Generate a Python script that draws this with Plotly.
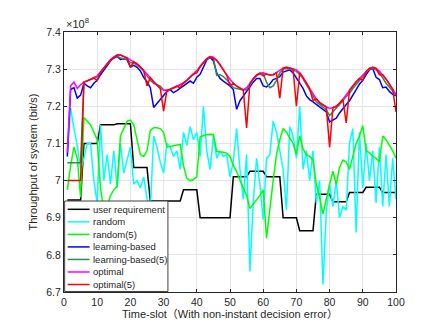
import plotly.graph_objects as go

# throughput per time-slot, in units of 1e8 bit/s
time_slots = list(range(1, 101))

user_requirement = [
    6.948, 6.948, 6.948, 6.948, 6.948, 7.100, 7.100, 7.100, 7.100, 7.100,
    7.150, 7.150, 7.150, 7.150, 7.150, 7.153, 7.153, 7.153, 7.153, 7.153,
    7.035, 7.035, 7.035, 7.035, 7.035, 6.945, 6.945, 6.945, 6.945, 6.945,
    6.945, 6.945, 6.945, 6.945, 6.945, 6.975, 6.975, 6.975, 6.975, 6.975,
    6.900, 6.900, 6.900, 6.900, 6.900, 6.900, 6.900, 6.900, 6.900, 6.900,
    7.010, 7.010, 7.010, 7.010, 7.010, 7.025, 7.025, 7.025, 7.025, 7.025,
    7.010, 7.010, 7.010, 7.010, 7.010, 6.900, 6.900, 6.900, 6.900, 6.900,
    6.865, 6.865, 6.865, 6.865, 6.865, 6.963, 6.963, 6.963, 6.963, 6.963,
    6.943, 6.943, 6.943, 6.943, 6.943, 6.968, 6.968, 6.968, 6.968, 6.968,
    6.982, 6.982, 6.982, 6.982, 6.982, 6.968, 6.968, 6.968, 6.968, 6.968,
]

random_policy = [
    7.070, 7.195, 7.140, 7.095, 7.030, 7.060, 7.100, 7.100, 7.000, 6.940,
    7.150, 7.000, 7.070, 6.990, 7.080, 6.980, 7.100, 7.020, 7.055, 7.090,
    6.990, 7.000, 6.980, 7.010, 6.950, 6.920, 7.120, 7.090, 7.050, 7.020,
    7.100, 7.090, 7.065, 7.080, 7.030, 7.130, 7.095, 7.145, 7.110, 7.130,
    7.065, 7.200, 7.080, 7.030, 7.120, 7.060, 7.080, 7.065, 7.070, 7.010,
    7.050, 7.140, 7.030, 6.950, 7.070, 6.755, 6.940, 7.060, 6.990, 6.895,
    7.060, 7.070, 7.160, 7.130, 7.080, 7.030, 6.920, 7.145, 7.120, 7.060,
    7.200, 7.030, 7.080, 7.000, 7.080, 6.940, 7.000, 6.720, 6.915, 6.990,
    6.930, 7.000, 6.900, 6.930, 6.920, 7.100, 7.140, 6.860, 7.130, 6.980,
    7.100, 7.000, 7.080, 6.940, 7.090, 6.930, 7.070, 6.930, 7.060, 6.950,
]

random_5 = [
    6.975, 7.040, 7.090, 7.060, 6.955, 7.170, 7.160, 7.150, 7.130, 7.110,
    6.980, 6.920, 6.930, 6.960, 6.975, 6.985, 7.120, 7.140, 7.160, 7.163,
    7.150, 7.110, 7.070, 7.065, 7.080, 7.135, 7.142, 7.142, 7.140, 7.130,
    7.090, 7.092, 7.095, 7.096, 7.097, 7.040, 7.006, 7.000, 7.003, 7.010,
    7.118, 7.122, 7.124, 7.125, 7.124, 7.078, 7.078, 7.076, 7.074, 7.065,
    7.040, 7.025, 7.000, 6.980, 6.960, 6.925, 6.935, 6.948, 6.960, 6.975,
    6.845, 6.930, 7.000, 7.070, 7.110, 7.140, 7.130, 7.115, 7.100, 7.070,
    7.120, 7.085, 7.070, 7.065, 7.055, 6.990, 6.955, 6.910, 6.955, 6.990,
    7.025, 6.990, 7.035, 7.055, 7.050, 7.030, 7.065, 7.100, 7.120, 7.148,
    7.080, 7.075, 7.065, 7.060, 7.050, 7.120, 7.110, 7.095, 7.080, 7.060,
]

learning = [
    7.065, 7.245, 7.250, 7.222, 7.230, 7.262, 7.255, 7.250, 7.262, 7.270,
    7.285, 7.298, 7.312, 7.322, 7.330, 7.334, 7.326, 7.328, 7.325, 7.306,
    7.310, 7.305, 7.295, 7.278, 7.266, 7.250, 7.197, 7.208, 7.220, 7.228,
    7.240, 7.244, 7.237, 7.242, 7.248, 7.255, 7.262, 7.268, 7.262, 7.278,
    7.286, 7.305, 7.325, 7.332, 7.322, 7.290, 7.275, 7.268, 7.262, 7.255,
    7.245, 7.192, 7.215, 7.228, 7.240, 7.255, 7.265, 7.275, 7.275, 7.255,
    7.252, 7.260, 7.272, 7.275, 7.280, 7.292, 7.295, 7.298, 7.290, 7.275,
    7.262, 7.248, 7.228, 7.218, 7.212, 7.205, 7.198, 7.192, 7.185, 7.158,
    7.162, 7.168, 7.182, 7.195, 7.205, 7.215, 7.232, 7.245, 7.260, 7.270,
    7.285, 7.298, 7.302, 7.278, 7.272, 7.250, 7.252, 7.240, 7.232, 7.228,
]

learning_5 = [
    7.048, 7.048, 7.048, 7.048, 7.048, 7.265, 7.268, 7.272, 7.276, 7.280,
    7.290, 7.302, 7.314, 7.324, 7.332, 7.336, 7.330, 7.328, 7.326, 7.318,
    7.316, 7.311, 7.304, 7.294, 7.282, 7.270, 7.262, 7.258, 7.254, 7.244,
    7.242, 7.245, 7.249, 7.253, 7.256, 7.262, 7.269, 7.277, 7.286, 7.295,
    7.306, 7.317, 7.327, 7.333, 7.330, 7.283, 7.285, 7.280, 7.272, 7.262,
    7.250, 7.248, 7.246, 7.243, 7.245, 7.260, 7.273, 7.282, 7.287, 7.288,
    7.265, 7.250, 7.255, 7.270, 7.290, 7.300, 7.302, 7.300, 7.298, 7.294,
    7.286, 7.274, 7.258, 7.243, 7.228, 7.212, 7.205, 7.198, 7.190, 7.175,
    7.185, 7.193, 7.204, 7.215, 7.226, 7.235, 7.248, 7.258, 7.270, 7.280,
    7.292, 7.300, 7.303, 7.298, 7.290, 7.275, 7.262, 7.252, 7.240, 7.230,
]

optimal = [
    7.075, 7.255, 7.265, 7.248, 7.258, 7.265, 7.268, 7.272, 7.276, 7.282,
    7.292, 7.303, 7.315, 7.325, 7.333, 7.338, 7.338, 7.335, 7.330, 7.325,
    7.320, 7.314, 7.306, 7.297, 7.287, 7.277, 7.266, 7.256, 7.248, 7.243,
    7.243, 7.246, 7.250, 7.254, 7.258, 7.263, 7.270, 7.278, 7.287, 7.296,
    7.307, 7.318, 7.328, 7.334, 7.332, 7.324, 7.312, 7.298, 7.284, 7.272,
    7.262, 7.254, 7.248, 7.244, 7.250, 7.262, 7.275, 7.284, 7.289, 7.290,
    7.287, 7.284, 7.285, 7.290, 7.297, 7.303, 7.305, 7.303, 7.300, 7.298,
    7.290, 7.278, 7.263, 7.248, 7.233, 7.220, 7.210, 7.203, 7.198, 7.195,
    7.196, 7.200, 7.208, 7.219, 7.231, 7.244, 7.256, 7.266, 7.275, 7.284,
    7.294, 7.302, 7.305, 7.302, 7.295, 7.285, 7.273, 7.260, 7.246, 7.232,
]

optimal_5 = [
    7.000, 7.000, 7.000, 7.000, 7.000, 7.265, 7.268, 7.272, 7.276, 7.270,
    7.292, 7.303, 7.315, 7.325, 7.330, 7.338, 7.338, 7.335, 7.330, 7.305,
    7.320, 7.314, 7.306, 7.297, 7.255, 7.277, 7.266, 7.256, 7.248, 7.187,
    7.243, 7.246, 7.250, 7.254, 7.250, 7.263, 7.270, 7.278, 7.287, 7.290,
    7.307, 7.318, 7.328, 7.334, 7.328, 7.324, 7.312, 7.298, 7.284, 7.255,
    7.262, 7.254, 7.248, 7.244, 7.142, 7.262, 7.275, 7.284, 7.289, 7.282,
    7.287, 7.284, 7.285, 7.290, 7.222, 7.303, 7.305, 7.303, 7.300, 7.200,
    7.290, 7.278, 7.263, 7.248, 7.215, 7.220, 7.210, 7.203, 7.198, 7.090,
    7.196, 7.200, 7.208, 7.219, 7.155, 7.244, 7.256, 7.266, 7.275, 7.270,
    7.294, 7.302, 7.305, 7.302, 7.285, 7.285, 7.273, 7.260, 7.246, 7.185,
]

names = ["user requirement", "random", "random(5)", "learning-based",
         "learning-based(5)", "optimal", "optimal(5)"]
colors = ["#000000", "#00ffff", "#00ff00", "#0000ff",
          "#338855", "#ff00ff", "#ff0000"]
series = [user_requirement, random_policy, random_5, learning,
          learning_5, optimal, optimal_5]

y_ticks = [6.7, 6.8, 6.9, 7.0, 7.1, 7.2, 7.3, 7.4]
y_labels = ["6.7", "6.8", "6.9", "7", "7.1", "7.2", "7.3", "7.4"]
x_ticks = [0, 10, 20, 30, 40, 50, 60, 70, 80, 90, 100]

fig = go.Figure()
for name, color, ys in zip(names, colors, series):
    fig.add_trace(go.Scatter(x=time_slots, y=ys, mode="lines", name=name,
                             line=dict(color=color, width=1.5)))

# matlab-style legend box in the lower left corner, opaque
fig.add_shape(type="rect", xref="paper", yref="paper", x0=0.002, x1=0.313,
              y0=0.002, y1=0.35, fillcolor="white",
              line=dict(color="#404040", width=1), layer="above")
for i, (name, color) in enumerate(zip(names, colors)):
    yc = 0.318 - 0.0482 * i
    fig.add_shape(type="line", xref="paper", yref="paper", x0=0.011, x1=0.077,
                  y0=yc, y1=yc, line=dict(color=color, width=1.5), layer="above")
    fig.add_annotation(xref="paper", yref="paper", x=0.082, y=yc, text=name,
                       showarrow=False, xanchor="left", yanchor="middle",
                       font=dict(size=9.5, color="#262626"))

fig.add_annotation(xref="paper", yref="paper", x=0.0, y=1.0,
                   text="×10<sup>8</sup>", showarrow=False,
                   xanchor="left", yanchor="bottom",
                   font=dict(size=11, color="#262626"))

axis_style = dict(showgrid=True, gridcolor="#e4e4e4", showline=True,
                  linecolor="#262626", linewidth=1, mirror="all",
                  ticks="inside", ticklen=3, tickcolor="#262626",
                  zeroline=False, tickfont=dict(size=10.5))

fig.update_layout(
    width=429, height=322,
    margin=dict(l=56, r=41, t=24, b=35),
    plot_bgcolor="white", paper_bgcolor="white",
    showlegend=False,
    font=dict(family="Liberation Sans, Arial, Noto Sans CJK SC, sans-serif",
              size=10, color="#262626"),
    xaxis=dict(range=[0, 100], tickvals=x_ticks,
               title=dict(text="Time-slot（With non-instant decision error）",
                          font=dict(size=11), standoff=3),
               **axis_style),
    yaxis=dict(range=[6.7, 7.4], tickvals=y_ticks, ticktext=y_labels,
               title=dict(text="Throughput of system (bit/s)",
                          font=dict(size=11), standoff=6),
               **axis_style),
)

fig.write_html("out.html")
